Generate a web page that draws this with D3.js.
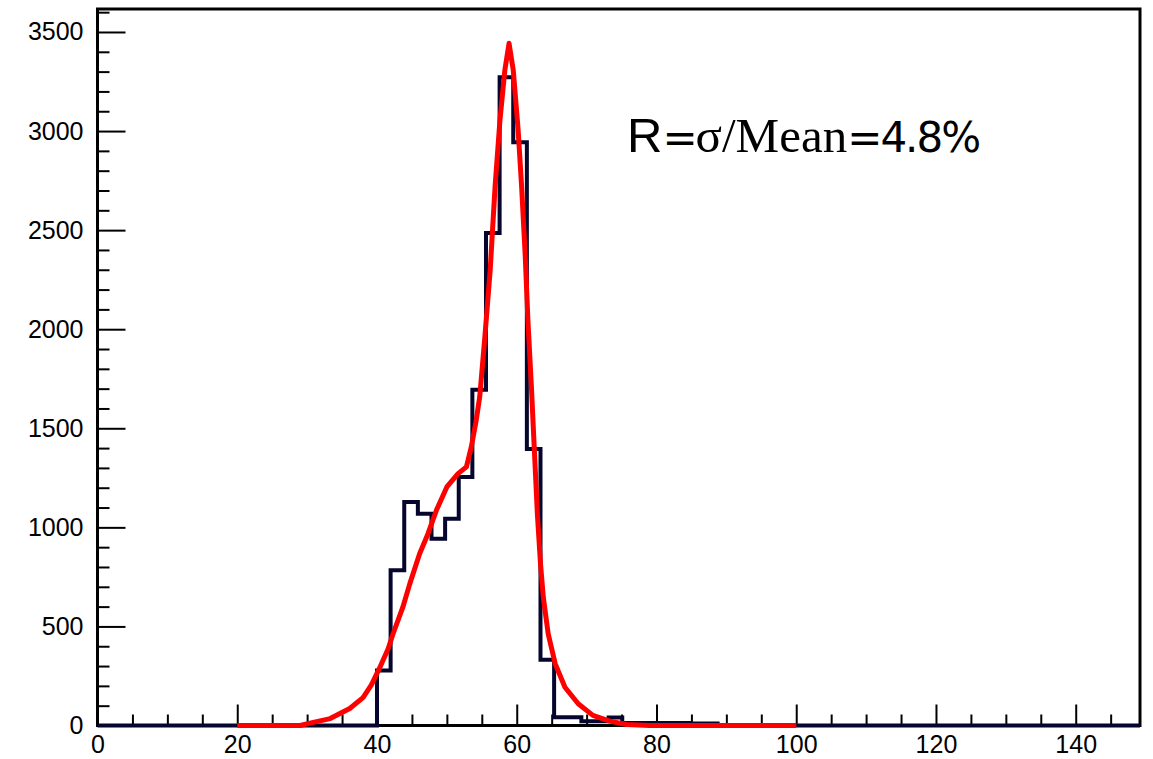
<!DOCTYPE html>
<html>
<head>
<meta charset="utf-8">
<script src="https://cdn.jsdelivr.net/npm/d3@7"></script>
<style>
  body { margin: 0; background: #fff; }
  svg { display: block; }
</style>
</head>
<body>
<div id="chart"></div>
<script>
// histogram: bins of equal width starting at binStart, zero elsewhere
const binStart = 40;
const binWidth = 1.95;
const binCounts = [278, 783, 1128, 1069, 943, 1044, 1254, 1695, 2486, 3271, 2944, 1395, 332,
    42, 42, 22, 22, 40, 12, 12, 12, 12, 12, 10, 10];

// fit curve (x, count)
const fitX = [20, 29, 30.4, 33.3, 36.1, 38.0, 39.2, 40.5, 41.6, 42.3, 43.7, 44.7, 46.1, 47.3, 48.5,
    50.0, 51.6, 52.8, 53.5, 54.2, 54.7, 55.4, 56.2, 56.9, 57.6, 58.3, 58.9, 59.5, 60.2, 60.7,
    61.2, 61.6, 62.1, 62.5, 62.95, 63.4, 63.8, 64.5, 65.5, 66.9, 68.8, 70.9, 73.3, 75.7, 79, 100];
const fitY = [0, 0, 12, 35, 86, 141, 205, 300, 387, 463, 597, 716, 867, 968, 1086,
    1204, 1271, 1305, 1406, 1540, 1658, 1944, 2298, 2719, 3056, 3308, 3443, 3308, 3005, 2719,
    2382, 2045, 1709, 1406, 1069, 817, 648, 463, 312, 193, 110, 51, 22, 5, 0, 0];

const xMajor = [0, 20, 40, 60, 80, 100, 120, 140];
const yMajor = [0, 500, 1000, 1500, 2000, 2500, 3000, 3500];

const width = 1153, height = 759;
const padding = {top: 9, right: 13, bottom: 33.5, left: 97.5};

const svg = d3.select('#chart').append('svg')
    .attr('width', width)
    .attr('height', height);

const x = d3.scaleLinear()
    .domain([0, 149.2])
    .range([padding.left, width - padding.right]);

const y = d3.scaleLinear()
    .domain([0, 3616])
    .range([height - padding.bottom, padding.top]);

const font = "'Liberation Sans', Arial, Helvetica, sans-serif";

// frame
svg.append('rect')
    .attr('x', x(0)).attr('y', y(3616))
    .attr('width', x(149.2) - x(0)).attr('height', y(0) - y(3616))
    .attr('fill', 'none').attr('stroke', '#000').attr('stroke-width', 3);

// x axis: major + minor ticks pointing up into the plot
const xMinor = d3.range(0, 150, 5).filter(v => v % 20 !== 0);
const gxMinor = svg.append('g')
    .attr('transform', `translate(0,${y(0)})`)
    .call(d3.axisBottom(x).tickValues(xMinor).tickSize(-11).tickFormat(''));
const gx = svg.append('g')
    .attr('transform', `translate(0,${y(0)})`)
    .call(d3.axisBottom(x).tickValues(xMajor).tickSize(-21).tickPadding(10).tickFormat(d3.format('d')));

// y axis
const yMinor = d3.range(0, 3601, 100).filter(v => v % 500 !== 0);
const gyMinor = svg.append('g')
    .attr('transform', `translate(${x(0)},0)`)
    .call(d3.axisLeft(y).tickValues(yMinor).tickSize(-12).tickFormat(''));
const gy = svg.append('g')
    .attr('transform', `translate(${x(0)},0)`)
    .call(d3.axisLeft(y).tickValues(yMajor).tickSize(-28).tickPadding(14).tickFormat(d3.format('d')));

[gx, gy, gxMinor, gyMinor].forEach(g => {
    g.select('.domain').remove();
    g.selectAll('line').attr('stroke', '#000').attr('stroke-width', 2);
    g.selectAll('text')
        .attr('font-family', font)
        .attr('font-size', 25)
        .attr('fill', '#000');
});

// histogram outline as a step path
const histPts = [[0, 0]];
binCounts.forEach((c, i) => {
    const lo = binStart + i * binWidth;
    histPts.push([lo, i === 0 ? 0 : binCounts[i - 1]]);
    histPts.push([lo, c]);
});
const histEnd = binStart + binCounts.length * binWidth;
histPts.push([histEnd, binCounts[binCounts.length - 1]]);
histPts.push([histEnd, 0]);
histPts.push([149.2, 0]);

svg.append('path')
    .datum(histPts)
    .attr('fill', 'none')
    .attr('stroke', '#05052e')
    .attr('stroke-width', 4)
    .attr('stroke-linejoin', 'miter')
    .attr('d', d3.line().x(d => x(d[0])).y(d => y(d[1])));

// fit curve
const fitData = fitX.map((v, i) => [v, fitY[i]]);
svg.append('path')
    .datum(fitData)
    .attr('fill', 'none')
    .attr('stroke', '#ff0000')
    .attr('stroke-width', 5)
    .attr('stroke-linejoin', 'round')
    .attr('d', d3.line().x(d => x(d[0])).y(d => y(d[1])));

// annotation
const label = svg.append('text')
    .attr('x', 627)
    .attr('y', 152)
    .attr('font-size', 49)
    .attr('fill', '#000');
label.append('tspan').attr('font-family', font).text('R');
label.append('tspan').attr('font-family', "'DejaVu Sans', sans-serif").attr('font-size', 42)
    .attr('letter-spacing', -2).text('=');
label.append('tspan').attr('font-family', "'Liberation Serif', 'Times New Roman', serif").text('σ/Mean');
label.append('tspan').attr('font-family', "'DejaVu Sans', sans-serif").attr('font-size', 42)
    .attr('letter-spacing', -2).text('=4.8%');
</script>
</body>
</html>
